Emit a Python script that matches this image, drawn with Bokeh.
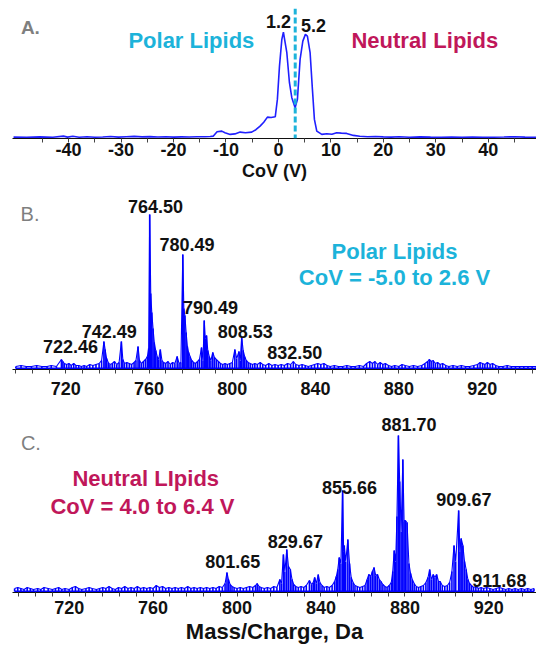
from bokeh.plotting import figure
from bokeh.models import Range1d, FixedTicker, Span, Label
from bokeh.layouts import column
from bokeh.embed import file_html
from bokeh.resources import INLINE

FONT = "Liberation Sans"
BLUE = "#0000ff"
TRACE = "#1f1fff"
CYAN = "#1cb3da"
CRIMSON = "#c0175a"
GRAY = "#7f7f7f"

# ---------------- Panel A: CoV ionogram ----------------
cov_volts = [-50.5, -48, -45.5, -43, -41, -40.2, -39.2, -38, -36.5, -35, -33.5, -32,
             -30.5, -29, -27.5, -26, -24.5, -23, -21.5, -20, -18.5, -17, -15.5, -14,
             -13, -12.4, -11.7, -10.8, -10.2, -9.2, -8.3, -7.3, -6.3, -5.1, -4.3, -3.5,
             -2.8, -2.1, -1.4, -0.6, -0.2, 0.2, 0.65, 0.95, 1.28, 1.6, 2.1, 2.55, 3.18,
             3.62, 4.13, 4.65, 5.14, 5.52, 6.04, 6.48, 6.86, 7.31, 8.27, 9.22, 10.2,
             11.1, 12.0, 13.0, 14.3, 15.5, 17, 18.5, 20, 21.5, 23, 25, 27, 29, 31, 33,
             35, 37, 39, 41, 43, 45, 47, 49.2]
cov_intensity = [0.6, 0.5, 0.8, 0.5, 1.6, 0.6, 1.4, 0.5, 0.9, 0.5, 0.7, 1.2,
                 0.6, 1.0, 1.3, 0.8, 1.1, 0.7, 0.9, 0.6, 0.8, 0.7, 0.9, 1.0,
                 1.2, 1.6, 6.0, 6.6, 5.0, 3.3, 3.8, 5.6, 5.0, 5.6, 8.0, 11.6,
                 15.5, 20.6, 20.2, 21.0, 38.3, 71.6, 98.3, 105.6, 95.0, 85.0, 55.0, 40.0, 30.0,
                 38.3, 78.3, 96.6, 103.3, 101.6, 85.0, 48.3, 18.3, 6.6, 3.3, 4.0, 3.4,
                 5.0, 4.6, 4.3, 2.3, 1.5, 1.0, 1.2, 0.8, 0.6, 1.0, 0.5, 0.8, 0.6, 0.5, 0.7,
                 0.5, 0.6, 0.5, 0.5, 0.7, 1.0, 0.6, 0.5]
cov_apex_labels = ["1.2", "5.2"]
cov_split = 3.2
cov_major_ticks = [-40, -30, -20, -10, 0, 10, 20, 30, 40]
cov_minor_ticks = [-45, -35, -25, -15, -5, 5, 15, 25, 35, 45]

# ---------------- Panel B: polar lipid spectrum ----------------
polar_mz = [696.0, 698.5, 701.0, 703.5, 706.0, 708.5, 711.0, 713.0, 715.5,
            717.9, 718.6, 719.3, 720.4, 721.5, 722.6, 723.8, 724.9, 726.2, 727.5, 728.8,
            730.0, 731.5, 733.0, 734.5, 736.0, 737.2,
            738.3, 738.9, 739.6, 740.4, 741.2, 742.3, 743.4, 744.5, 745.6, 746.7, 747.4,
            748.2, 749.3, 750.5, 751.6, 752.8, 753.7, 754.7, 755.4, 756.3, 757.3, 758.3,
            759.2, 759.8,
            760.3, 760.8, 761.3, 761.9, 762.5, 763.2, 763.9, 764.6, 765.4, 766.2, 767.0,
            768.0, 769.1, 770.2, 771.3, 772.4, 773.5, 774.4, 775.3,
            776.2, 776.7, 777.2, 777.8, 778.4, 779.0, 779.7, 780.5, 781.4, 782.3, 783.3,
            784.2, 785.2, 785.9, 786.5, 787.0, 787.6, 788.2, 788.9, 789.7, 790.6, 791.4,
            792.3, 793.3, 794.3, 795.4, 796.5, 797.6, 798.8, 800.0, 801.2, 802.1, 803.2,
            803.8, 804.5, 805.2, 805.9, 806.7, 807.6, 808.6, 809.7, 810.8, 812.0, 813.4,
            814.6, 816.0, 817.5, 819.0, 820.5, 822.0, 823.5, 825.0, 826.5, 828.0, 829.3,
            830.5, 832.0, 833.5, 835.0, 836.5, 838.0, 839.5, 841.0, 842.5, 844.0, 845.5,
            847.0, 849.0, 851.0, 853.0, 855.0, 857.0, 859.0, 861.0, 863.0, 864.5, 866.0,
            867.3, 868.5, 869.8, 871.0, 872.3, 873.5, 875.0, 876.5, 878.0, 880.0, 881.5,
            883.0, 885.0, 887.0, 889.0, 891.0, 892.5, 893.8, 894.6, 895.5, 896.5, 897.5,
            898.6, 899.8, 901.0, 902.5, 904.0, 906.0, 908.0, 910.0, 912.0, 914.0, 916.0,
            917.8, 919.0, 920.2, 921.3, 922.5, 923.8, 925.0, 926.5, 928.0, 930.0, 932.0,
            934.0, 936.0, 938.0, 940.0, 942.0, 944.0, 946.0]
polar_int = [2, 3, 2, 2, 3, 2, 2, 3, 2,
             9, 7, 5, 4, 5, 3, 5, 3, 3, 2, 3,
             2, 4, 3, 4, 5, 8,
             27, 19, 10, 6, 4, 5, 7, 4, 6, 27, 9,
             5, 6, 5, 4, 6, 8, 22, 8, 5, 7, 9,
             12, 20,
             154, 75, 56, 40, 26, 18, 12, 9, 19, 8, 6,
             5, 7, 4, 6, 5, 12, 5, 6,
             114, 60, 53, 36, 22, 16, 12, 8, 6, 5, 7,
             9, 21, 8, 48, 30, 33, 18, 12, 8, 16, 11,
             9, 7, 5, 4, 5, 4, 5, 6, 19, 10, 17,
             8, 31, 18, 12, 8, 6, 5, 4, 5, 4, 6,
             4, 3, 5, 3, 4, 3, 4, 3, 5, 4, 7,
             4, 3, 4, 3, 2, 3, 4, 5, 4, 5, 3,
             2, 3, 2, 2, 3, 2, 2, 3, 2, 5, 7,
             5, 7, 4, 6, 4, 5, 3, 2, 3, 2, 4,
             3, 2, 3, 2, 3, 5, 7, 9, 7, 8, 5,
             6, 4, 5, 3, 2, 3, 2, 3, 2, 2, 3,
             4, 6, 5, 4, 6, 4, 5, 3, 2, 2, 3,
             2, 2, 2, 2, 2, 2, 2]
polar_peak_labels = ["764.50", "780.49", "790.49", "808.53", "742.49", "722.46", "832.50"]

# ---------------- Panel C: neutral lipid spectrum ----------------
neutral_mz = [694.0, 695.5, 697.0, 698.5, 700.0, 701.5, 703.0, 705.0, 706.5, 708.0, 710.0,
              712.0, 713.5, 715.0, 716.5, 718.0, 720.0, 721.5, 723.0, 724.5, 726.0, 728.0,
              729.5, 731.0, 733.0, 734.5, 736.0, 737.5, 739.0, 740.5, 742.0, 743.5, 745.0,
              746.5, 748.0, 749.5, 751.0, 752.5, 754.0, 755.5, 757.0, 758.5, 760.0, 761.5,
              763.0, 764.5, 766.0, 767.5, 769.0, 770.5, 772.0, 773.5, 775.0, 776.5, 778.0,
              779.5, 781.0, 782.5, 784.0, 785.5, 787.0, 788.5, 790.0, 791.5, 793.0, 794.3,
              795.2, 795.9, 796.7, 797.6, 798.6, 800.0, 801.5, 803.0, 804.5, 806.0, 807.5,
              808.8, 809.6, 810.5, 811.5, 813.0, 814.5, 816.0, 817.5, 819.0, 820.4, 821.2,
              822.1, 822.8, 823.7, 824.5, 825.4, 826.2, 827.0, 828.0, 829.2, 830.5, 831.8,
              833.0, 834.5, 835.5, 836.3, 837.0, 837.8, 838.7, 839.5, 840.5, 841.5, 842.8,
              844.0, 845.3, 846.5, 847.3, 848.0, 848.7, 849.5, 850.3, 850.8, 851.1, 851.8,
              852.8, 853.6, 854.4, 855.3, 856.2, 857.3, 858.5, 859.8, 861.0, 862.0, 862.8,
              863.7, 864.5, 865.3, 866.1, 866.9, 867.8, 868.6, 869.5, 870.5, 871.5, 872.5,
              873.5, 874.2, 874.9, 875.6, 876.2, 876.9, 877.5, 878.2, 879.0, 879.6, 880.2,
              881.0, 881.9, 882.7, 883.5, 884.4, 885.4, 886.5, 887.6, 888.8, 890.0, 891.0,
              891.8, 892.6, 893.5, 894.3, 895.1, 896.0, 896.8, 897.8, 899.0, 900.2, 901.3,
              902.4, 903.4, 904.2, 905.6, 906.2, 906.8, 907.6, 908.4, 909.2, 910.0, 910.8,
              911.7, 912.7, 913.8, 915.0, 916.3, 917.5, 919.0, 920.5, 922.0, 923.5, 925.0,
              926.5, 928.0, 929.5, 931.0, 932.5, 934.0, 935.5, 937.0, 938.5, 940.0, 941.5]
neutral_int = [3, 4, 3, 2, 4, 3, 2, 3, 2, 4, 3,
               2, 3, 4, 2, 3, 2, 4, 5, 3, 2, 3,
               4, 3, 2, 3, 4, 3, 5, 3, 2, 4, 3,
               5, 3, 4, 3, 5, 3, 4, 3, 4, 3, 6,
               4, 5, 3, 4, 3, 4, 3, 4, 3, 5, 3,
               4, 3, 4, 3, 4, 3, 4, 3, 5, 4, 8,
               19, 12, 7, 5, 4, 3, 4, 3, 4, 5, 4,
               6, 8, 5, 4, 3, 4, 3, 5, 4, 12, 8,
               37, 20, 42, 25, 22, 12, 7, 5, 4, 5, 4,
               6, 11, 7, 9, 14, 8, 17, 9, 6, 4, 5,
               4, 6, 10, 15, 22, 34, 28, 101, 40, 46, 30,
               52, 28, 14, 9, 6, 5, 4, 5, 6, 12, 17,
               15, 20, 24, 16, 17, 12, 10, 7, 5, 4, 6,
               9, 20, 41, 30, 75, 156, 110, 60, 132, 70, 71,
               69, 28, 18, 12, 8, 5, 4, 5, 6, 9, 14,
               22, 12, 17, 14, 17, 10, 10, 6, 5, 6, 9,
               20, 46, 30, 81, 40, 53, 46, 30, 22, 12, 8,
               6, 4, 5, 3, 4, 3, 4, 3, 2, 3, 4,
               3, 2, 3, 2, 3, 2, 3, 2, 3, 2, 3]
neutral_peak_labels = ["881.70", "855.66", "909.67", "829.67", "801.65", "911.68"]

mz_major_ticks = [720, 760, 800, 840, 880, 920]
mz_minor_ticks = [696, 704, 712, 728, 736, 744, 752, 768, 776, 784, 792, 808, 816, 824,
                  832, 848, 856, 864, 872, 888, 896, 904, 912, 928, 936, 944]


def make_fig(height, xr, yr, top, bottom, major, minor, standoff):
    p = figure(width=536, height=height, x_range=Range1d(*xr), y_range=Range1d(*yr),
               output_backend="svg", toolbar_location=None, y_axis_location=None,
               min_border_left=12, min_border_right=0, min_border_top=top,
               min_border_bottom=bottom)
    p.outline_line_color = None
    p.xgrid.visible = False
    p.ygrid.visible = False
    p.background_fill_color = "white"
    p.border_fill_color = "white"
    ax = p.xaxis[0]
    ax.ticker = FixedTicker(ticks=major, minor_ticks=minor)
    ax.major_label_overrides = {t: str(t) for t in major}
    ax.axis_line_color = "#111111"
    ax.axis_line_width = 1
    ax.major_tick_in = 0
    ax.major_tick_out = 4
    ax.minor_tick_in = 0
    ax.minor_tick_out = 4
    ax.major_tick_line_color = "#444444"
    ax.minor_tick_line_color = "#444444"
    ax.major_label_text_font = FONT
    ax.major_label_text_font_style = "bold"
    ax.major_label_text_font_size = "18px"
    ax.major_label_text_color = "#111111"
    ax.major_label_standoff = standoff
    ax.axis_label_text_font = FONT
    ax.axis_label_text_font_style = "bold"
    ax.axis_label_text_color = "#111111"
    return p


def add_label(p, x, y, text, size, color="#111111", style="bold", align="center"):
    p.add_layout(Label(x=x, y=y, text=text, text_font=FONT, text_font_size=size,
                       text_font_style=style, text_color=color, text_align=align,
                       text_baseline="middle"))


# ---------- figure A ----------
pa = make_fig(188, (-50.7, 49.2), (-0.8, 129.2), 8, 50, cov_major_ticks, cov_minor_ticks, 0)
pa.xaxis.axis_label = "CoV (V)"
pa.xaxis.axis_label_text_font_size = "18px"
pa.xaxis.axis_label_standoff = 2
pa.line(cov_volts, cov_intensity, line_color=TRACE, line_width=1.6)
pa.add_layout(Span(location=cov_split, dimension="height", line_color=CYAN,
                   line_width=3, line_dash="6 3"))
add_label(pa, -49.1, 110, "A.", "19px", GRAY, align="left")
add_label(pa, 0.0, 116.6, cov_apex_labels[0], "18px")
add_label(pa, 6.67, 112.3, cov_apex_labels[1], "18px")
add_label(pa, -16.6, 97.3, "Polar Lipids", "22px", CYAN)
add_label(pa, 27.9, 97.3, "Neutral Lipids", "22px", CRIMSON)

# ---------- figure B ----------
pb = make_fig(215, (694.4, 946.1), (-1.0, 180.0), 0, 34, mz_major_ticks, mz_minor_ticks, 8)
pb.segment(x0=polar_mz, y0=[0] * len(polar_mz), x1=polar_mz, y1=polar_int,
           line_color=BLUE, line_width=1.6)
pb.line(polar_mz, polar_int, line_color=BLUE, line_width=1.1)
pb.segment(x0=[min(polar_mz)], y0=[0], x1=[max(polar_mz)], y1=[0], line_color=BLUE, line_width=2)
add_label(pb, 698.3, 154.3, "B.", "20px", GRAY, style="normal", align="left")
for txt, x, y in zip(polar_peak_labels,
                     [763.1, 778.2, 789.5, 806.2, 740.9, 722.3, 830.0],
                     [162.3, 124.0, 60.7, 37.3, 37.3, 22.3, 15.7]):
    add_label(pb, x, y, txt, "18px")
add_label(pb, 877.9, 117.3, "Polar Lipids", "22px", CYAN)
add_label(pb, 877.9, 90.7, "CoV = -5.0 to 2.6 V", "22px", CYAN)

# ---------- figure C ----------
pc = make_fig(248, (693.0, 942.7), (-1.0, 188.0), 0, 59, mz_major_ticks, mz_minor_ticks, 4)
pc.xaxis.axis_label = "Mass/Charge, Da"
pc.xaxis.axis_label_text_font_size = "22px"
pc.xaxis.axis_label_standoff = 2
pc.segment(x0=neutral_mz, y0=[0] * len(neutral_mz), x1=neutral_mz, y1=neutral_int,
           line_color=BLUE, line_width=1.6)
pc.line(neutral_mz, neutral_int, line_color=BLUE, line_width=1.1)
pc.segment(x0=[min(neutral_mz)], y0=[0], x1=[max(neutral_mz)], y1=[0], line_color=BLUE, line_width=2)
add_label(pc, 697.0, 148.7, "C.", "20px", GRAY, style="normal", align="left")
for txt, x, y in zip(neutral_peak_labels,
                     [881.9, 853.6, 908.1, 827.8, 798.0, 925.0],
                     [167.0, 103.7, 92.0, 50.3, 30.3, 11.3]):
    add_label(pc, x, y, txt, "18px")
add_label(pc, 756.5, 112.7, "Neutral LIpids", "22px", CRIMSON)
add_label(pc, 754.9, 85.3, "CoV = 4.0 to 6.4 V", "22px", CRIMSON)

layout = column(pa, pb, pc)
open("out.html", "w").write(file_html(layout, INLINE))
